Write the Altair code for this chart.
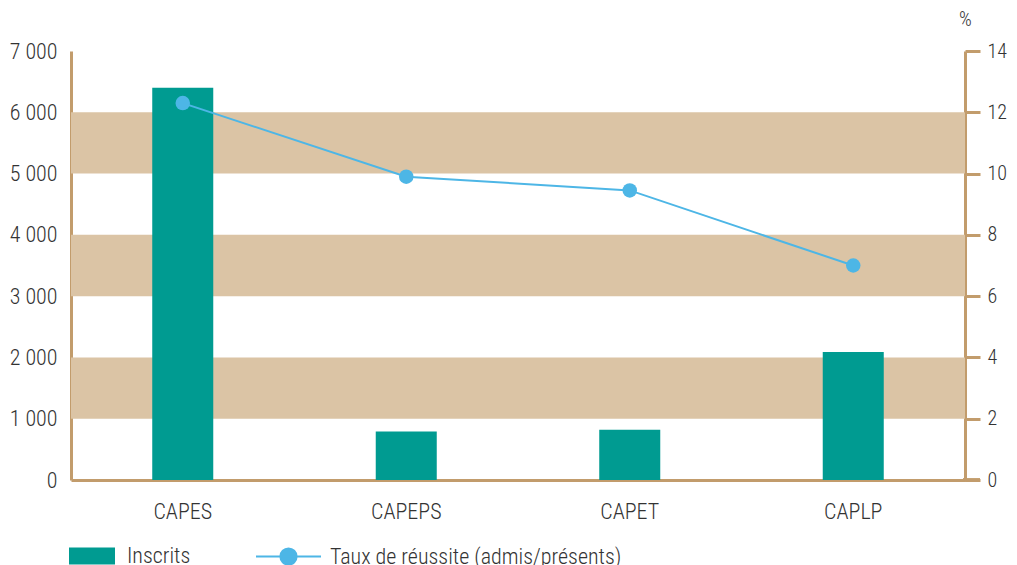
import altair as alt
import pandas as pd

categories = ["CAPES", "CAPEPS", "CAPET", "CAPLP"]
inscrits = [6400, 790, 820, 2090]
taux = [12.3, 9.9, 9.45, 7.0]
band_low = [1000, 3000, 5000]
band_high = [2000, 4000, 6000]

TEAL = "#009b91"
BLUE = "#4db6e6"
TAN = "#dbc4a5"
AXIS = "#c29c6c"
TXT = "#333333"
FONT = "Roboto Condensed, DejaVu Sans Condensed, Liberation Sans Narrow, Roboto, sans-serif"
FS = 22
FW = 300

W, H = 894, 429

df = pd.DataFrame({"cat": categories, "inscrits": inscrits, "taux": taux,
                   "s1": "Inscrits", "s2": "Taux de réussite (admis/présents)"})
bands = pd.DataFrame({"lo": band_low, "hi": band_high})

xenc = alt.X("cat:N", sort=categories, title=None,
             scale=alt.Scale(paddingInner=0.727, paddingOuter=0.3635),
             axis=alt.Axis(labelAngle=0, ticks=False, domain=True, domainColor=AXIS,
                           domainWidth=3, labelPadding=21, labelFontSize=FS,
                           labelFont=FONT, labelColor=TXT, labelFontWeight=FW))

yl_axis = alt.Axis(values=list(range(0, 7001, 1000)), ticks=False, grid=False,
                   domainColor=AXIS, domainWidth=3, labelPadding=14,
                   labelFontSize=FS, labelFont=FONT, labelColor=TXT, labelFontWeight=FW,
                   labelExpr="replace(format(datum.value, ','), /,/g, ' ')")

band_layer = alt.Chart(bands).mark_rect(color=TAN).encode(
    x=alt.value(0), x2=alt.value(W),
    y=alt.Y("lo:Q", scale=alt.Scale(domain=[0, 7000]), title=None, axis=yl_axis),
    y2="hi:Q",
)

bars = alt.Chart(df).mark_bar().encode(
    x=xenc,
    y=alt.Y("inscrits:Q", scale=alt.Scale(domain=[0, 7000]), title=None, axis=yl_axis),
    color=alt.Color("s1:N", scale=alt.Scale(range=[TEAL]),
                    legend=alt.Legend(title=None, orient="none", legendX=-2, legendY=482,
                                      symbolType="M-1,-0.37H1V0.37H-1Z", symbolSize=2116,
                                      symbolStrokeWidth=0, labelFontSize=FS, labelFont=FONT,
                                      labelFontWeight=FW,
                                      labelColor=TXT, labelOffset=12, labelLimit=0)),
)

left = alt.layer(band_layer, bars)

yr_axis = alt.Axis(orient="right", values=list(range(0, 15, 2)), grid=False,
                   ticks=True, tickSize=15, tickWidth=3, tickColor=AXIS,
                   domainColor=AXIS, domainWidth=3, labelPadding=7,
                   labelFontSize=20, labelFont=FONT, labelColor=TXT, labelFontWeight=FW,
                   titleAngle=0, titleX=0, titleY=-22, titleAlign="center",
                   titleFontSize=20, titleFont=FONT, titleColor=TXT,
                   titleFontWeight=FW)

line = alt.Chart(df).mark_line(strokeWidth=2).encode(
    x=alt.X("cat:N", sort=categories),
    y=alt.Y("taux:Q", scale=alt.Scale(domain=[0, 14]), title="%", axis=yr_axis),
    stroke=alt.Stroke("s2:N", scale=alt.Scale(range=[BLUE]),
                      legend=alt.Legend(title=None, orient="none", legendX=184, legendY=472,
                                        symbolType="M-1,0H1M-0.25,0A0.25,0.25 0 1,0 0.25,0A0.25,0.25 0 1,0 -0.25,0Z",
                                        symbolSize=4225, symbolStrokeWidth=2,
                                        symbolFillColor=BLUE,
                                        labelFontSize=FS, labelFont=FONT, labelFontWeight=FW,
                                        labelColor=TXT, labelOffset=8, labelLimit=0)),
)
pts = alt.Chart(df).mark_circle(size=210, opacity=1, color=BLUE).encode(
    x=alt.X("cat:N", sort=categories),
    y=alt.Y("taux:Q", scale=alt.Scale(domain=[0, 14]), title="%", axis=yr_axis),
)
right = alt.layer(line, pts)

bottom_ext = alt.Chart(df).mark_rule(color=AXIS, strokeWidth=3).encode(
    x=alt.value(W - 2), x2=alt.value(W + 15), y=alt.value(H), y2=alt.value(H))

chart = alt.layer(left, right, bottom_ext).resolve_scale(
    y="independent", color="independent", stroke="independent"
).properties(
    width=W, height=H,
    autosize=alt.AutoSizeParams(type="none"),
    padding={"left": 63, "top": 43, "right": 44, "bottom": 85},
).configure_view(stroke=None)

chart.save("out.html", embed_options={"renderer": "svg", "actions": False})
